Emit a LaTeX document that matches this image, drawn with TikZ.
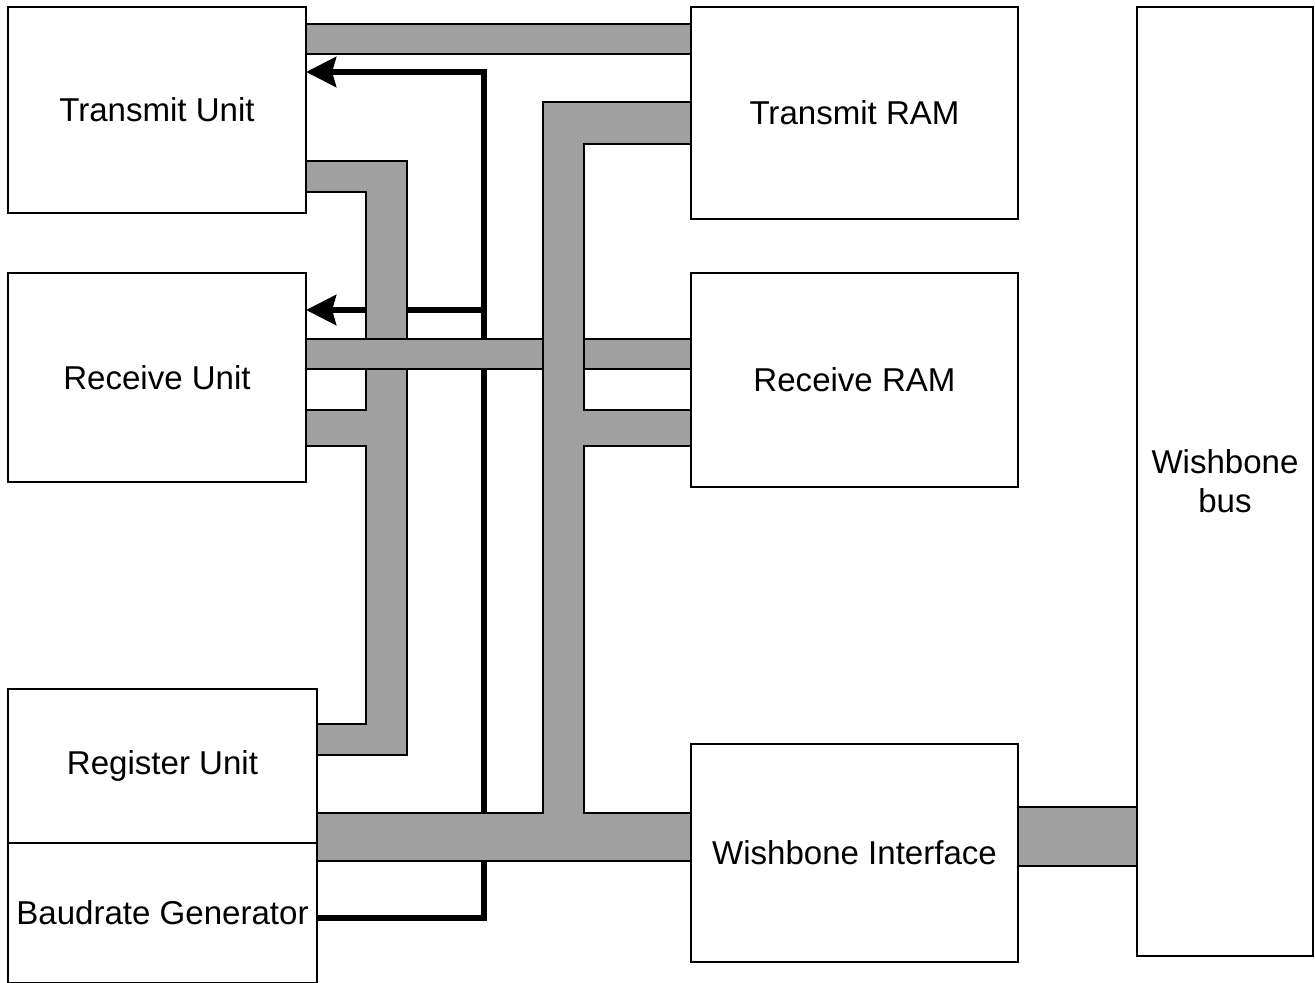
\documentclass[tikz,border=0pt]{standalone}
\usepackage{fontspec}
\setmainfont{Liberation Sans}
\usepackage{tikz}
\usetikzlibrary{arrows.meta,positioning,calc,backgrounds}
\definecolor{busgray}{RGB}{160,160,160}

\begin{document}
\begin{tikzpicture}[x=0.01cm,y=-0.01cm,
    unit/.style={draw, line width=0.6pt, inner sep=0pt, outer sep=0pt, align=center,
                 font=\fontsize{9.4}{11}\selectfont},
    bus/.style={draw, fill=busgray, line width=0.5pt},
    clk/.style={line width=1.6pt, -{Stealth[length=3mm, width=3mm, inset=0.4mm]}}]
    \useasboundingbox (0,0) rectangle (1315,983);
    % units on the left
    \node[unit, minimum width=2.98cm, minimum height=2.06cm] (txu) at (157,110) {Transmit Unit};
    \node[unit, minimum width=2.98cm, minimum height=2.09cm] (rxu) at (157,377.5) {Receive Unit};
    \node[unit, minimum width=3.09cm, minimum height=1.54cm] (reg) at (162.5,766) {Register Unit};
    \node[unit, minimum width=3.09cm, minimum height=1.40cm] (bdg) at (162.5,913) {Baudrate Generator};
    % memories and interface
    \node[unit, minimum width=3.27cm, minimum height=2.12cm] (txram) at (854.5,113) {Transmit RAM};
    \node[unit, minimum width=3.27cm, minimum height=2.14cm] (rxram) at (854.5,380) {Receive RAM};
    \node[unit, minimum width=3.27cm, minimum height=2.18cm] (wbif) at (854.5,853) {Wishbone Interface};
    \node[unit, minimum width=1.76cm, minimum height=9.49cm] (wbb) at (1225,481.5) {Wishbone\\bus};

    \begin{scope}[on background layer]
        % baud clock lines
        \draw[clk] ([yshift=-0.05cm]bdg.east) -| (484,72) -- (txu.east |- 0,72);
        \draw[clk] (484,310) -- (rxu.east |- 0,310);
        % register bus
        \draw[bus] (txu.east |- 0,161) -- (407,161) -- (407,755) -- (reg.east |- 0,755)
            -- (reg.east |- 0,724) -- (366,724) -- (366,446) -- (rxu.east |- 0,446)
            -- (rxu.east |- 0,410) -- (366,410) -- (366,192) -- (txu.east |- 0,192) -- cycle;
        % data buses
        \draw[bus] (rxu.east |- 0,339) rectangle (rxram.west |- 0,369);
        \draw[bus] (txu.east |- 0,24) rectangle (txram.west |- 0,54);
        % wishbone side
        \draw[bus] (reg.east |- 0,813) -- (543,813) -- (543,102) -- (txram.west |- 0,102)
            -- (txram.west |- 0,144) -- (584,144) -- (584,410) -- (rxram.west |- 0,410)
            -- (rxram.west |- 0,446) -- (584,446) -- (584,813) -- (wbif.west |- 0,813)
            -- (wbif.west |- 0,861) -- (reg.east |- 0,861) -- cycle;
        \draw[bus] (wbif.east |- 0,807) rectangle (wbb.west |- 0,866);
    \end{scope}
\end{tikzpicture}
\end{document}
